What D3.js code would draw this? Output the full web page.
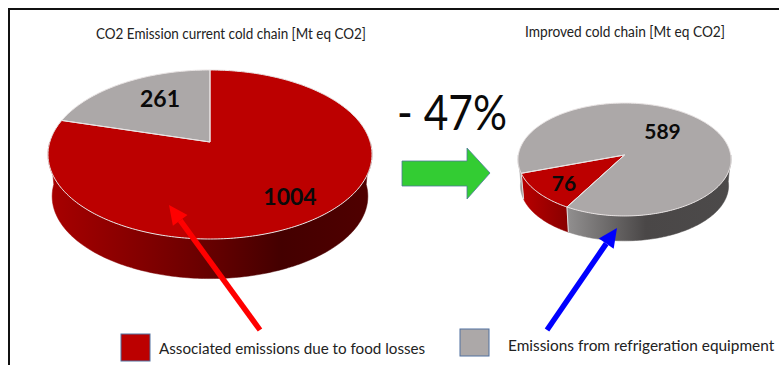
<!DOCTYPE html>
<html>
<head>
<meta charset="utf-8">
<script src="https://d3js.org/d3.v7.min.js"></script>
<style>
html,body{margin:0;padding:0;background:#fff;}
svg{display:block;}
text{font-family:Lato,"Open Sans",sans-serif;fill:#222;}
</style>
</head>
<body>
<svg id="chart" width="779" height="365"></svg>
<script>
const categories = ["Associated emissions due to food losses", "Emissions from refrigeration equipment"];
const currentValues = [1004, 261];
const improvedValues = [76, 589];
const pieTitles = ["CO2 Emission current cold chain [Mt eq CO2]", "Improved cold chain [Mt eq CO2]"];
const reductionLabel = "- 47%";
const sliceColors = ["#bc0000", "#aca8a8"];

const svg = d3.select("#chart");
const defs = svg.append("defs");
const DEG = Math.PI / 180;

// Outer frame: only the top and left rules are visible.
svg.append("path").attr("d", d3.line()([[779, 9], [9, 9], [9, 365]]))
  .attr("fill", "none").attr("stroke", "#111").attr("stroke-width", 2);

// Tilted pie: a homography maps the unit disc to the screen, so the apex sits
// behind the centre of the visible ellipse.
function drawPie(cfg) {
  const g = svg.append("g");
  const project = (r, a, drop = 0) => {
    const u = r * Math.sin(a), v = -r * Math.cos(a), w = 1 + cfg.k * v;
    return [cfg.x + cfg.a * u / w, cfg.y + cfg.b * v / w + drop];
  };
  const arcPts = (a0, a1, r = 1, drop = 0) => {
    const n = Math.max(2, Math.ceil((a1 - a0) / (1 * DEG)));
    return d3.range(n + 1).map(i => project(r, a0 + (a1 - a0) * i / n, drop));
  };
  const line = d3.line();
  const slices = d3.pie().sort(null).startAngle(cfg.start).endAngle(cfg.start + 2 * Math.PI)(cfg.values);

  // Wall: only the part of each slice on the front half of the rim.
  const frontA = 90 * DEG, frontB = 270 * DEG;
  const seams = [];
  slices.forEach((s, i) => {
    [0, -2 * Math.PI].forEach((shift, j) => {
      const a0 = Math.max(s.startAngle + shift, frontA);
      const a1 = Math.min(s.endAngle + shift, frontB);
      if (a1 <= a0) return;
      const id = `${cfg.id}-wall-${i}-${j}`;
      const grad = defs.append("linearGradient").attr("id", id)
        .attr("gradientUnits", "userSpaceOnUse")
        .attr("x1", cfg.x - cfg.a * 1.01).attr("x2", cfg.x + cfg.a * 1.01).attr("y1", 0).attr("y2", 0);
      cfg.wallStops[i].forEach(([o, c]) => grad.append("stop").attr("offset", o).attr("stop-color", c));
      const top = arcPts(a0, a1), bottom = arcPts(a0, a1, cfg.wallScale, cfg.depth).reverse();
      g.append("path").attr("d", line(top.concat(bottom)) + "Z")
        .attr("fill", `url(#${id})`).attr("stroke", `url(#${id})`).attr("stroke-width", 0.5);
      if (s.startAngle + shift > frontA) seams.push(s.startAngle + shift);
    });
  });
  // Pale seams where two slices meet on the wall.
  seams.forEach(a => {
    g.append("path").attr("d", line([project(1, a), project(cfg.wallScale, a, cfg.depth)]))
      .attr("stroke", "#e2dcdc").attr("stroke-width", 1).attr("fill", "none");
  });

  // Top surface, one filled wedge per slice.
  slices.forEach((s, i) => {
    const pts = [[cfg.x, cfg.y]].concat(arcPts(s.startAngle, s.endAngle));
    g.append("path").attr("d", line(pts) + "Z").attr("fill", sliceColors[i]);
  });
  // Pale rim and slice edges.
  slices.forEach(s => {
    const pts = [[cfg.x, cfg.y]].concat(arcPts(s.startAngle, s.endAngle));
    g.append("path").attr("d", line(pts) + "Z").attr("fill", "none")
      .attr("stroke", "#e9e4e4").attr("stroke-width", 1).attr("stroke-linejoin", "round");
  });

  // Value labels, centred on a chosen spot inside each wedge.
  slices.forEach((s, i) => {
    const p = cfg.labelAt[i];
    g.append("text").attr("x", p[0]).attr("y", p[1]).attr("text-anchor", "middle").attr("dy", "0.36em")
      .attr("font-size", cfg.labelSize).attr("font-weight", 700)
      .style("fill", "#0a0a0a").text(s.value);
  });
}

drawPie({
  id: "current", values: currentValues, x: 210, y: 142, a: 160.2, b: 82.65, k: -0.148,
  depth: 42.4, wallScale: 0.975,
  start: 0, labelSize: 23, labelAt: [[290, 197], [160, 99]],
  wallStops: [
    [[0, "#a80000"], [0.31, "#800000"], [0.5, "#660000"], [0.72, "#440000"], [1, "#500000"]],
    [[0, "#8f8d8d"], [1, "#4a4848"]]
  ]
});

drawPie({
  id: "improved", values: improvedValues, x: 624.5, y: 155, a: 106.2, b: 56.1, k: -0.0796,
  depth: 26.4, wallScale: 0.977,
  start: 210.3 * DEG, labelSize: 21, labelAt: [[564, 183], [662.5, 131]],
  wallStops: [
    [[0.02, "#b80000"], [0.23, "#8a0000"], [1, "#5a0000"]],
    [[0, "#a09e9e"], [0.23, "#929090"], [0.6, "#4a4747"], [1, "#4c4a4a"]]
  ]
});

// Titles and the headline reduction, fitted to their measured widths.
const fitted = (x, y, size, width, str) => svg.append("text")
  .attr("x", x).attr("y", y).attr("font-size", size)
  .attr("textLength", width).attr("lengthAdjust", "spacingAndGlyphs").text(str);
fitted(96, 39, 14.5, 270, pieTitles[0]);
fitted(525, 37, 14.5, 200, pieTitles[1]);
fitted(397, 130, 48, 110, reductionLabel).style("fill", "#0a0a0a");

// Block arrow between the two pies.
svg.append("path")
  .attr("d", d3.line()([[402, 161], [467, 161], [467, 148], [490, 173], [467, 199], [467, 186], [402, 186]]) + "Z")
  .attr("fill", "#33cc33").attr("stroke", "#4f7a9a").attr("stroke-width", 0.8);

// Pointers from the legend entries to the slices.
function pointer(from, to, color) {
  const ang = Math.atan2(to[1] - from[1], to[0] - from[0]);
  const headLen = 19, headHalf = 9;
  const base = [to[0] - headLen * Math.cos(ang), to[1] - headLen * Math.sin(ang)];
  svg.append("line").attr("x1", from[0]).attr("y1", from[1]).attr("x2", base[0]).attr("y2", base[1])
    .attr("stroke", color).attr("stroke-width", 5.5);
  const nx = -Math.sin(ang), ny = Math.cos(ang);
  svg.append("path").attr("fill", color).attr("d", d3.line()([
    to, [base[0] + nx * headHalf, base[1] + ny * headHalf], [base[0] - nx * headHalf, base[1] - ny * headHalf]
  ]) + "Z");
}
pointer([260, 330], [169, 205], "#ff0000");
pointer([547, 330], [617, 228], "#0000ff");

// Legend.
const legend = [
  { box: [121, 334], text: [159, 353.5], size: 15.2 },
  { box: [460, 329], text: [508, 350.5], size: 15.4 }
];
legend.forEach((l, i) => {
  svg.append("rect").attr("x", l.box[0]).attr("y", l.box[1]).attr("width", 29).attr("height", 27)
    .attr("fill", sliceColors[i]).attr("stroke", "#50709f").attr("stroke-width", 1);
  svg.append("text").attr("x", l.text[0]).attr("y", l.text[1]).attr("font-size", l.size).text(categories[i]);
});
</script>
</body>
</html>
